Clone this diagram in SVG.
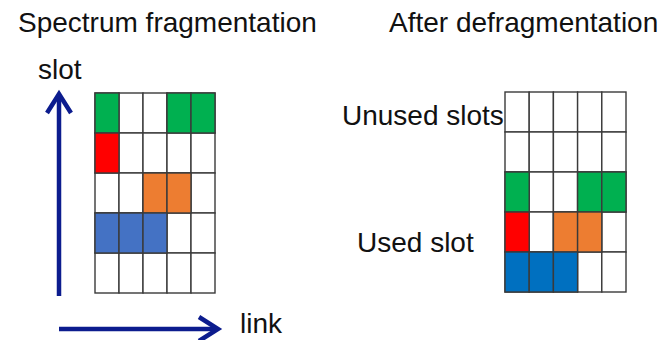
<svg xmlns="http://www.w3.org/2000/svg" width="663" height="340" viewBox="0 0 663 340">
  <defs>
    <style>
      .lbl { font-family: "Liberation Sans", Arial, sans-serif; font-size: 28px; fill: #111; }
      .cell { fill: #fff; stroke: #3a3a3a; stroke-width: 1.4; }
      .g { fill: #00B050; }
      .r { fill: #FF0000; }
      .o { fill: #ED7D31; }
      .b1 { fill: #4472C4; }
      .b2 { fill: #0070C0; }
      .axis { fill: none; stroke: #0C1C8E; stroke-width: 4.5; stroke-linecap: butt; stroke-linejoin: miter; }
    </style>
  </defs>
  <rect width="663" height="340" fill="#fff"/>

  <!-- titles -->
  <g id="title-fragmented"><text class="lbl" x="18" y="32">Spectrum fragmentation</text></g>
  <g id="title-defragmented"><text class="lbl" x="389" y="32">After defragmentation</text></g>

  <!-- fragmented spectrum grid: 5 links x 5 slots -->
  <g id="grid-fragmented">
    <g transform="translate(95,93)">
      <rect class="cell" x="0" y="0" width="24" height="40"/>
      <rect class="cell" x="24" y="0" width="24" height="40"/>
      <rect class="cell" x="48" y="0" width="24" height="40"/>
      <rect class="cell" x="72" y="0" width="24" height="40"/>
      <rect class="cell" x="96" y="0" width="24" height="40"/>
      <rect class="cell" x="0" y="40" width="24" height="40"/>
      <rect class="cell" x="24" y="40" width="24" height="40"/>
      <rect class="cell" x="48" y="40" width="24" height="40"/>
      <rect class="cell" x="72" y="40" width="24" height="40"/>
      <rect class="cell" x="96" y="40" width="24" height="40"/>
      <rect class="cell" x="0" y="80" width="24" height="40"/>
      <rect class="cell" x="24" y="80" width="24" height="40"/>
      <rect class="cell" x="48" y="80" width="24" height="40"/>
      <rect class="cell" x="72" y="80" width="24" height="40"/>
      <rect class="cell" x="96" y="80" width="24" height="40"/>
      <rect class="cell" x="0" y="120" width="24" height="40"/>
      <rect class="cell" x="24" y="120" width="24" height="40"/>
      <rect class="cell" x="48" y="120" width="24" height="40"/>
      <rect class="cell" x="72" y="120" width="24" height="40"/>
      <rect class="cell" x="96" y="120" width="24" height="40"/>
      <rect class="cell" x="0" y="160" width="24" height="40"/>
      <rect class="cell" x="24" y="160" width="24" height="40"/>
      <rect class="cell" x="48" y="160" width="24" height="40"/>
      <rect class="cell" x="72" y="160" width="24" height="40"/>
      <rect class="cell" x="96" y="160" width="24" height="40"/>
      <!-- occupied slots -->
      <rect class="cell g" x="0" y="0" width="24" height="40"/>
      <rect class="cell g" x="72" y="0" width="24" height="40"/>
      <rect class="cell g" x="96" y="0" width="24" height="40"/>
      <rect class="cell r" x="0" y="40" width="24" height="40"/>
      <rect class="cell o" x="48" y="80" width="24" height="40"/>
      <rect class="cell o" x="72" y="80" width="24" height="40"/>
      <rect class="cell b1" x="0" y="120" width="24" height="40"/>
      <rect class="cell b1" x="24" y="120" width="24" height="40"/>
      <rect class="cell b1" x="48" y="120" width="24" height="40"/>
    </g>
  </g>

  <!-- defragmented spectrum grid -->
  <g id="grid-defragmented">
    <g transform="translate(505,92)">
      <rect class="cell" x="0" y="0" width="24.2" height="40"/>
      <rect class="cell" x="24.2" y="0" width="24.2" height="40"/>
      <rect class="cell" x="48.4" y="0" width="24.2" height="40"/>
      <rect class="cell" x="72.6" y="0" width="24.2" height="40"/>
      <rect class="cell" x="96.8" y="0" width="24.2" height="40"/>
      <rect class="cell" x="0" y="40" width="24.2" height="40"/>
      <rect class="cell" x="24.2" y="40" width="24.2" height="40"/>
      <rect class="cell" x="48.4" y="40" width="24.2" height="40"/>
      <rect class="cell" x="72.6" y="40" width="24.2" height="40"/>
      <rect class="cell" x="96.8" y="40" width="24.2" height="40"/>
      <rect class="cell" x="0" y="80" width="24.2" height="40"/>
      <rect class="cell" x="24.2" y="80" width="24.2" height="40"/>
      <rect class="cell" x="48.4" y="80" width="24.2" height="40"/>
      <rect class="cell" x="72.6" y="80" width="24.2" height="40"/>
      <rect class="cell" x="96.8" y="80" width="24.2" height="40"/>
      <rect class="cell" x="0" y="120" width="24.2" height="40"/>
      <rect class="cell" x="24.2" y="120" width="24.2" height="40"/>
      <rect class="cell" x="48.4" y="120" width="24.2" height="40"/>
      <rect class="cell" x="72.6" y="120" width="24.2" height="40"/>
      <rect class="cell" x="96.8" y="120" width="24.2" height="40"/>
      <rect class="cell" x="0" y="160" width="24.2" height="40"/>
      <rect class="cell" x="24.2" y="160" width="24.2" height="40"/>
      <rect class="cell" x="48.4" y="160" width="24.2" height="40"/>
      <rect class="cell" x="72.6" y="160" width="24.2" height="40"/>
      <rect class="cell" x="96.8" y="160" width="24.2" height="40"/>
      <!-- occupied slots, packed to the bottom -->
      <rect class="cell g" x="0" y="80" width="24.2" height="40"/>
      <rect class="cell g" x="72.6" y="80" width="24.2" height="40"/>
      <rect class="cell g" x="96.8" y="80" width="24.2" height="40"/>
      <rect class="cell r" x="0" y="120" width="24.2" height="40"/>
      <rect class="cell o" x="48.4" y="120" width="24.2" height="40"/>
      <rect class="cell o" x="72.6" y="120" width="24.2" height="40"/>
      <rect class="cell b2" x="0" y="160" width="24.2" height="40"/>
      <rect class="cell b2" x="24.2" y="160" width="24.2" height="40"/>
      <rect class="cell b2" x="48.4" y="160" width="24.2" height="40"/>
    </g>
  </g>

  <!-- labels -->
  <g id="label-slot"><text class="lbl" x="38" y="79">slot</text></g>
  <g id="label-link"><text class="lbl" x="240" y="333">link</text></g>
  <g id="label-unused"><text class="lbl" x="342" y="125">Unused slots</text></g>
  <g id="label-used"><text class="lbl" x="357" y="252">Used slot</text></g>

  <!-- axes -->
  <g id="connectors">
    <path class="axis" d="M59,296 V95"/>
    <path class="axis" d="M47,113 L59,94 L71,113"/>
    <path class="axis" d="M59,329 H216"/>
    <path class="axis" d="M199,317 L218,329 L199,341"/>
  </g>
</svg>
